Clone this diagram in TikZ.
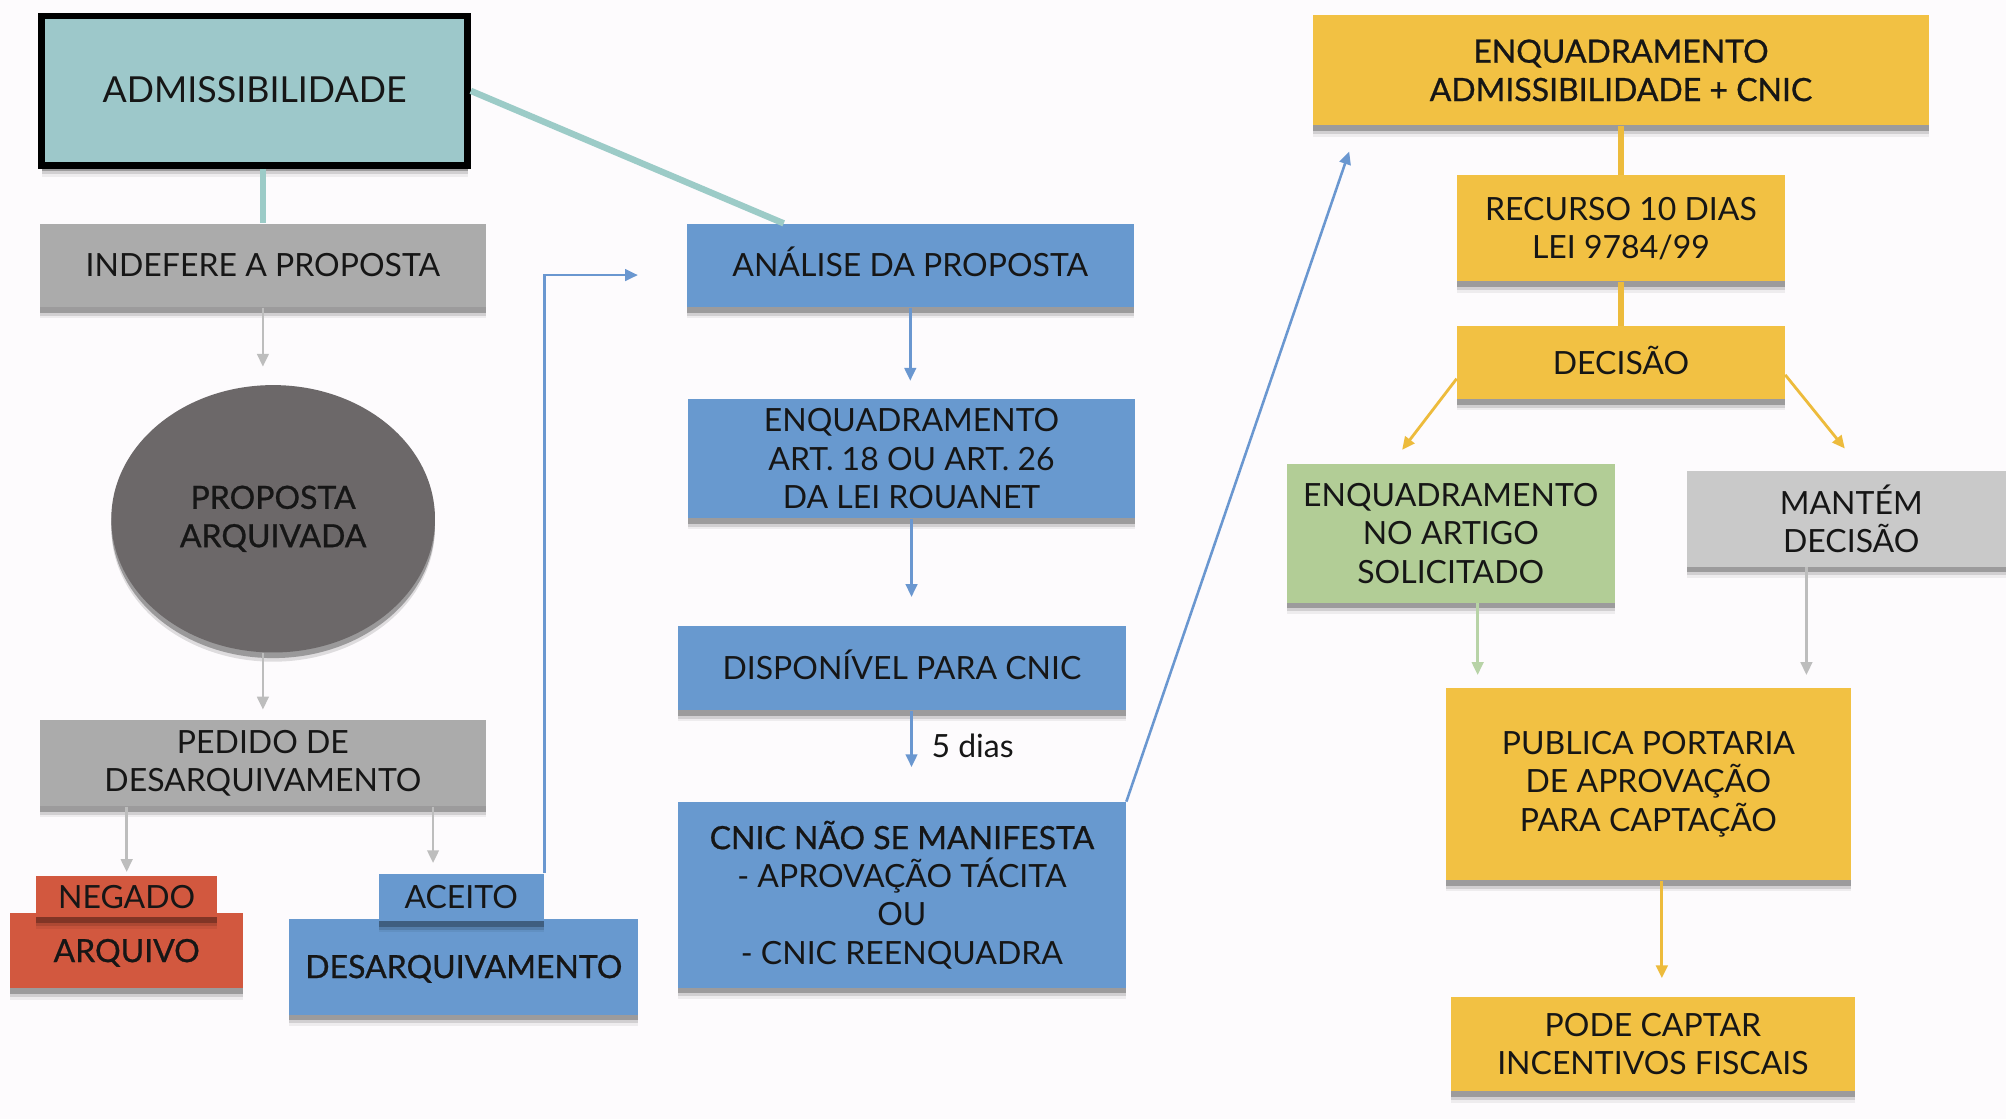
\documentclass[tikz,border=0pt]{standalone}
\usepackage{fontspec}
\setmainfont{Lato}
\newfontfamily\medfont{Lato}[FakeBold=0.8]
\usetikzlibrary{arrows.meta,shadows,shapes.geometric}
\definecolor{bgc}{HTML}{FDFBFD}
\definecolor{txt}{HTML}{161616}
\definecolor{tealb}{HTML}{9DC8CA}
\definecolor{teall}{HTML}{9CCBC7}
\definecolor{grayb}{HTML}{ABABAB}
\definecolor{grayl}{HTML}{C9C9C9}
\definecolor{graya}{HTML}{BDBDBD}
\definecolor{ellc}{HTML}{6C6869}
\definecolor{redb}{HTML}{D2583F}
\definecolor{blueb}{HTML}{6899CF}
\definecolor{bluel}{HTML}{6A97D0}
\definecolor{yelb}{HTML}{F2C143}
\definecolor{yell}{HTML}{EDBB3C}
\definecolor{greenb}{HTML}{B2CD96}
\definecolor{greenl}{HTML}{B8D3A7}
\begin{document}
\begin{tikzpicture}[x=0.5pt,y=-0.5pt,
  softshadow/.style={
    drop shadow={shadow xshift=0pt, shadow yshift=-4.4pt, opacity=0.06, fill=black},
    drop shadow={shadow xshift=0pt, shadow yshift=-3.4pt, opacity=0.12, fill=black},
    drop shadow={shadow xshift=0pt, shadow yshift=-2.2pt, opacity=0.25, fill=black}},
  box/.style={rectangle, inner sep=0pt, align=center, text=txt,
    font=\fontsize{12.5}{15}\selectfont, softshadow},
  one/.style={text height=9pt, text depth=0pt},
  sz/.style 2 args={minimum width=#1pt, minimum height=#2pt},
  gbox/.style={box, fill=grayb},
  bbox/.style={box, fill=blueb},
  ybox/.style={box, fill=yelb},
  rbox/.style={box, fill=redb},
  medtxt/.style={font=\fontsize{12.5}{15}\medfont},
  arr/.style={-{Triangle[width=4.5pt,length=5pt]}},
  garr/.style={arr, draw=graya, line width=1pt},
  barr/.style={arr, draw=bluel, line width=1pt},
  yarr/.style={arr, draw=yell, line width=1.1pt},
  ylink/.style={draw=yell, line width=2.5pt},
  tlink/.style={draw=teall, line width=2.5pt}
]
\useasboundingbox[fill=bgc] (0,0) rectangle (1568,875);

% left column
\node[box, fill=tealb, draw=black, line width=2.5pt, sz={166.5}{58.5}, one,
  font=\fontsize{14}{16}\selectfont] (ADM) at (199,71) {ADMISSIBILIDADE};
\node[gbox, sz={174.5}{32.5}, one] (INDEF) at (205.5,207.5) {INDEFERE A PROPOSTA};
\node[ellipse, fill=ellc, inner sep=0pt, minimum width=126.5pt, minimum height=104.5pt,
  align=center, text=txt, font=\fontsize{12.5}{15}\medfont,
  drop shadow={shadow xshift=0pt, shadow yshift=-3.6pt, opacity=0.12, fill=black},
  drop shadow={shadow xshift=0pt, shadow yshift=-2.2pt, opacity=0.3, fill=black}]
  (ELL) at (213.5,405.5) {PROPOSTA\\ARQUIVADA};
\node[gbox, sz={174.5}{33.5}] (PED) at (205.5,596.5) {PEDIDO DE\\DESARQUIVAMENTO};
\node[rbox, sz={91}{29.5}, medtxt, one] (ARQ) at (99,743) {ARQUIVO};
\node[rbox, sz={71}{16}, one] (NEG) at (99,701) {NEGADO};
\node[bbox, sz={136.5}{37.5}, medtxt, one] (DESARQ) at (362.5,755.5) {DESARQUIVAMENTO};
\node[bbox, sz={64.5}{18.5}, one] (ACE) at (360.5,701.5) {ACEITO};

% middle column
\node[bbox, sz={174.5}{32.5}, one] (ANA) at (711.5,207.5) {ANÁLISE DA PROPOSTA};
\node[bbox, sz={174.5}{46.5}] (ENQART) at (712.5,358.5) {ENQUADRAMENTO\\ART. 18 OU ART. 26\\DA LEI ROUANET};
\node[bbox, sz={175}{33}, one] (DISP) at (705,522) {DISPONÍVEL PARA CNIC};
\node[bbox, sz={175}{72.5}] (CNIC) at (705,699.5)
  {{\medfont CNIC NÃO SE MANIFESTA}\\- APROVAÇÃO TÁCITA\\OU\\- CNIC REENQUADRA};

% right column
\node[ybox, sz={241}{43}, medtxt] (ENQADM) at (1267,55) {ENQUADRAMENTO\\ADMISSIBILIDADE + CNIC};
\node[ybox, sz={128}{41.5}] (REC) at (1267,178.5) {RECURSO 10 DIAS\\LEI 9784/99};
\node[ybox, sz={128}{28.5}, one] (DEC) at (1267,283.5) {DECISÃO};
\node[box, fill=greenb, sz={128}{54}] (ENQNO) at (1134,417) {ENQUADRAMENTO\\NO ARTIGO\\SOLICITADO};
\node[box, fill=grayl, sz={128}{37.5}] (MAN) at (1447,405.5) {MANTÉM\\DECISÃO};
\node[ybox, sz={158.5}{75}] (PUB) at (1288.5,613) {PUBLICA PORTARIA\\DE APROVAÇÃO\\PARA CAPTAÇÃO};
\node[ybox, sz={158}{37}] (PODE) at (1292,816) {PODE CAPTAR\\INCENTIVOS FISCAIS};

% connectors left
\draw[tlink] (INDEF.north |- ADM.south) -- (INDEF.north);
\draw[tlink] (ADM.east) -- ([xshift=38pt]ANA.north west);
\draw[garr, shorten >=7pt] (INDEF.south) -- (INDEF.south |- ELL.north);
\draw[garr, shorten >=4pt] (PED.north |- ELL.south) -- (PED.north);
\draw[garr, shorten >=1.5pt] (PED.south -| NEG.north) -- (NEG.north);
\coordinate (acetop) at ([xshift=-11pt]ACE.north);
\draw[garr, shorten >=4pt] (PED.south -| acetop) -- (acetop);
\coordinate (anaend) at ([shift={(-19pt,-3.75pt)}]ANA.west);
\draw[barr] (ACE.north east) |- (anaend);

% connectors middle
\draw[barr, shorten >=7pt] (ANA.south) -- (ANA.south |- ENQART.north);
\draw[barr, shorten >=11pt] (ENQART.south) -- (ENQART.south |- DISP.north);
\draw[barr, shorten >=13.5pt] (DISP.south -| ENQART.south) -- (ENQART.south |- CNIC.north)
  node[pos=0.39, right, xshift=4pt, text=txt, font=\fontsize{12.5}{15}\selectfont] {5 dias};
\coordinate (enqend) at ([shift={(14.5pt,-10pt)}]ENQADM.south west);
\draw[barr] (CNIC.north east) -- (enqend);

% connectors right
\draw[ylink] (ENQADM.south) -- (REC.north);
\draw[ylink] (REC.south) -- (DEC.north);
\coordinate (decl) at ([yshift=-6.25pt]DEC.west);
\coordinate (enqnotip) at ([shift={(-19pt,5.5pt)}]ENQNO.north);
\draw[yarr] (decl) -- (enqnotip);
\coordinate (decr) at ([yshift=-4.75pt]DEC.east);
\coordinate (mantip) at ([shift={(-2.5pt,8.5pt)}]MAN.north);
\draw[yarr] (decr) -- (mantip);
\coordinate (enqnob) at ([xshift=10.5pt]ENQNO.south);
\draw[arr, draw=greenl, line width=1pt, shorten >=5pt] (enqnob) -- (enqnob |- PUB.north);
\coordinate (manb) at ([xshift=-17.5pt]MAN.south);
\draw[garr, shorten >=5pt] (manb) -- (manb |- PUB.north);
\coordinate (pubb) at ([xshift=5.25pt]PUB.south);
\draw[yarr, shorten >=7pt] (pubb) -- (pubb |- PODE.north);
\end{tikzpicture}
\end{document}
